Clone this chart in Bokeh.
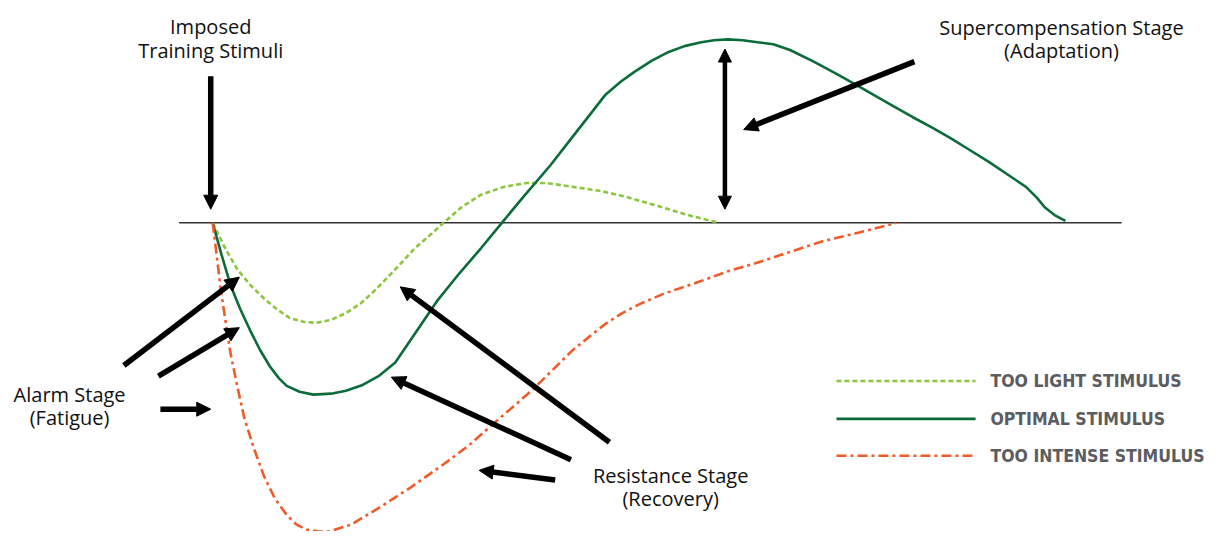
from bokeh.plotting import figure
from bokeh.models import Range1d, Arrow, NormalHead
from bokeh.core.properties import value
from bokeh.embed import file_html
from bokeh.resources import INLINE

BASE = 229  # baseline (homeostasis level), reference px from top

# --- curve data: time (x) and performance relative to baseline (y) ---
optimal_x = [215, 224, 233, 243, 253, 263, 273, 282, 290, 303, 317, 335, 350, 367, 383, 400, 420, 442, 465, 487,
             508, 530, 557, 580, 600, 613, 628, 643, 660, 677, 693, 710, 723, 737, 752, 767, 783, 800, 824, 848,
             867, 886, 905, 924, 944, 963, 982, 1001, 1020, 1039, 1050, 1058, 1068, 1079]
optimal_y = [0, -33, -64, -89, -111, -131, -148, -160, -168, -174, -177, -176, -173, -167, -158, -144, -114, -81,
             -52, -26, 0, 27, 59, 89, 115, 132, 145, 156, 167, 176, 182, 186, 188, 189, 188, 186, 184, 178, 166, 153,
             142, 131, 120, 109, 98, 87, 75, 63, 50, 37, 26, 16, 8, 2]

light_x = [215, 228, 240, 253, 267, 280, 293, 307, 320, 335, 350, 365, 380, 400, 420, 437, 449, 467, 487, 510, 533,
           553, 580, 607, 633, 667, 700, 728]
light_y = [0, -27, -48, -64, -78, -89, -98, -102, -103, -100, -93, -83, -69, -48, -26, -11, 0, 16, 29, 37, 41, 41,
           37, 33, 27, 17, 7, 0]

intense_x = [215, 219, 223, 228, 233, 240, 247, 257, 267, 278, 290, 300, 310, 322, 333, 355, 383, 415, 450, 475, 497,
             520, 540, 560, 580, 597, 613, 630, 647, 672, 707, 737, 767, 800, 833, 870, 908]
intense_y = [0, -33, -68, -101, -134, -169, -201, -233, -261, -284, -301, -311, -316, -318, -318, -311, -294, -273,
             -248, -229, -209, -189, -171, -151, -131, -117, -104, -93, -84, -73, -61, -50, -41, -30, -19, -10, 0]

legend_labels = ["TOO LIGHT STIMULUS", "OPTIMAL STIMULUS", "TOO INTENSE STIMULUS"]

DARK = "#0b6b3a"
LIGHT = "#8cc63f"
ORANGE = "#f15a29"
GREY = "#5b5d61"


def Y(sy):
    return BASE - sy


p = figure(width=1210, height=531, x_range=Range1d(0, 1226), y_range=Range1d(Y(547), Y(0)),
           output_backend="svg", toolbar_location=None, min_border=0)
p.axis.visible = False
p.grid.visible = False
p.outline_line_color = None
p.background_fill_color = "white"

# baseline
p.line([181, 1136], [0, 0], line_color="#333333", line_width=1.5)

# curves
p.line(light_x, light_y, line_color=LIGHT, line_width=2.6, line_dash="5 3")
p.line(optimal_x, optimal_y, line_color=DARK, line_width=2.6)
p.line(intense_x, intense_y, line_color=ORANGE, line_width=2.6, line_dash="10 4 3 4")

# legend
leg_y = [Y(392), Y(431), Y(469)]
p.line([847, 988], [leg_y[0]] * 2, line_color=LIGHT, line_width=2.6, line_dash="5 3")
p.line([847, 988], [leg_y[1]] * 2, line_color=DARK, line_width=2.6)
p.line([847, 988], [leg_y[2]] * 2, line_color=ORANGE, line_width=2.6, line_dash="10 4 3 4")
p.text(x=[1003] * 3, y=leg_y, text=legend_labels, text_font=value("DejaVu Sans Condensed, Roboto, sans-serif"),
       text_font_style="bold", text_font_size="17.5px", text_color=GREY, text_align="left",
       text_baseline="middle")

# annotation texts
labels = ["Imposed", "Training Stimuli", "Supercompensation Stage", "(Adaptation)", "Alarm Stage", "(Fatigue)",
          "Resistance Stage", "(Recovery)"]
lx = [213, 213, 1075, 1075, 70, 70, 679, 679]
ly = [Y(27), Y(51), Y(28), Y(52), Y(406), Y(430), Y(489), Y(513)]
p.text(x=lx, y=ly, text=labels, text_font=value("Open Sans"), text_font_size="20px", text_color="#111111",
       text_align="center", text_baseline="middle")

# arrows (start x, start y, end x, end y) in reference px
arrows = [
    (213, 78, 213, 215),
    (926, 63, 753, 133),
    (125, 376, 242, 285),
    (160, 387, 242, 337),
    (162, 421, 213, 421),
    (617, 455, 405, 295),
    (578, 473, 396, 388),
    (562, 494, 485, 484),
]
for (x0, y0, x1, y1) in arrows:
    p.add_layout(Arrow(x_start=x0, y_start=Y(y0), x_end=x1, y_end=Y(y1), line_width=5.5, line_color="black",
                       end=NormalHead(size=14, fill_color="black", line_color="black", line_width=1)))

# double-headed arrow (supercompensation magnitude)
p.add_layout(Arrow(x_start=734, y_start=Y(215), x_end=734, y_end=Y(50), line_width=4.5, line_color="black",
                   start=NormalHead(size=13, fill_color="black", line_color="black", line_width=1),
                   end=NormalHead(size=13, fill_color="black", line_color="black", line_width=1)))

open("out.html", "w").write(file_html(p, INLINE))
